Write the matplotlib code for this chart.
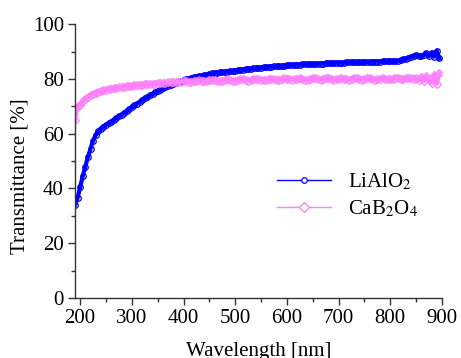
import numpy as np
import matplotlib
matplotlib.use("Agg")
import matplotlib.pyplot as plt
from matplotlib.lines import Line2D

plt.rcParams['font.family'] = ['Liberation Serif', 'DejaVu Serif']
plt.rcParams['mathtext.fontset'] = 'stix'

# wavelength grid (nm), 5 nm steps
wavelength = np.arange(190, 896, 5)

# LiAlO2 transmittance [%]
lialo2 = [
    34.0, 36.5, 40.5, 44.5, 48.0, 51.5, 54.5, 57.5, 59.5, 60.8,   # 190-235
    61.8, 62.6, 63.2, 63.8, 64.4, 65.0, 65.7, 66.3, 67.0, 67.6,   # 240-285
    68.3, 68.9, 69.6, 70.3, 71.0, 71.6, 72.3, 72.9, 73.5, 74.1,   # 290-335
    74.6, 75.1, 75.6, 76.1, 76.6, 77.0, 77.4, 77.8, 78.2, 78.6,   # 340-385
    78.9, 79.3, 79.6, 79.9, 80.1, 80.4, 80.6, 80.8, 81.0, 81.2,   # 390-435
    81.4, 81.6, 81.8, 82.0, 82.1, 82.3, 82.4, 82.5, 82.6, 82.7,   # 440-485
    82.8, 82.9, 83.0, 83.1, 83.3, 83.4, 83.5, 83.6, 83.7, 83.8,   # 490-535
    83.9, 84.0, 84.1, 84.2, 84.3, 84.4, 84.5, 84.6, 84.6, 84.7,   # 540-585
    84.8, 84.8, 84.9, 85.0, 85.0, 85.1, 85.2, 85.2, 85.3, 85.3,   # 590-635
    85.4, 85.4, 85.5, 85.5, 85.5, 85.6, 85.6, 85.7, 85.7, 85.8,   # 640-685
    85.8, 85.8, 85.9, 85.9, 85.9, 86.0, 86.0, 86.0, 86.1, 86.1,   # 690-735
    86.1, 86.2, 86.2, 86.2, 86.2, 86.3, 86.3, 86.3, 86.3, 86.4,   # 740-785
    86.4, 86.4, 86.4, 86.5, 86.5, 86.6, 86.8, 87.1, 87.4, 87.8,   # 790-835
    88.1, 88.4, 88.7, 88.5, 88.2, 88.9, 89.4, 88.3, 89.6, 88.1,   # 840-885
    90.2, 87.5,                                                   # 890-895
]

# CaB2O4 transmittance [%]
cab2o4 = [
    65.0, 70.0, 70.6, 71.8, 72.8, 73.5, 74.1, 74.6, 75.0, 75.3,   # 190-235
    75.6, 75.8, 76.0, 76.2, 76.4, 76.6, 76.7, 76.9, 77.0, 77.2,   # 240-285
    77.3, 77.4, 77.5, 77.6, 77.7, 77.8, 77.9, 78.0, 78.1, 78.2,   # 290-335
    78.2, 78.3, 78.4, 78.5, 78.6, 78.6, 78.7, 78.8, 78.8, 78.9,   # 340-385
    78.9, 79.0, 79.1, 79.2, 79.0, 78.9, 79.1, 79.4, 79.5, 79.3,   # 390-435
    79.1, 79.2, 79.5, 79.7, 79.6, 79.3, 79.2, 79.4, 79.7, 79.8,   # 440-485
    79.6, 79.3, 79.3, 79.6, 79.9, 79.9, 79.6, 79.4, 79.5, 79.8,   # 490-535
    80.0, 79.9, 79.6, 79.5, 79.7, 80.0, 80.1, 79.9, 79.6, 79.6,   # 540-585
    79.9, 80.2, 80.1, 79.8, 79.6, 79.8, 80.1, 80.2, 80.0, 79.7,   # 590-635
    79.7, 80.0, 80.3, 80.2, 79.9, 79.7, 79.9, 80.2, 80.3, 80.0,   # 640-685
    79.7, 79.8, 80.1, 80.3, 80.1, 79.8, 79.7, 80.0, 80.3, 80.2,   # 690-735
    79.9, 79.7, 79.9, 80.2, 80.3, 80.0, 79.7, 79.8, 80.1, 80.3,   # 740-785
    80.1, 79.8, 79.8, 80.1, 80.4, 80.3, 80.0, 79.9, 80.2, 80.5,   # 790-835
    80.4, 80.1, 80.3, 79.5, 80.8, 79.2, 81.0, 79.8, 78.6, 81.5,   # 840-885
    78.3, 82.0,                                                   # 890-895
]

blue = '#0000ff'
pink = '#ff80ff'

fig = plt.figure(figsize=(4.61, 3.58), dpi=100)
ax = fig.add_axes([0.1627, 0.1676, 0.796, 0.765])

# thick line + open markers, so the dense scan reads as a solid band
ax.plot(wavelength, lialo2, '-o', color=blue, lw=3.0, ms=4.0,
        mfc='none', mec=blue, mew=0.9)
ax.plot(wavelength, cab2o4, '-D', color=pink, lw=3.0, ms=4.5,
        mfc='none', mec=pink, mew=0.9)

ax.set_xlim(190, 900)
ax.set_ylim(0, 100)
ax.set_xticks(np.arange(200, 901, 100))
ax.set_xticks(np.arange(250, 900, 100), minor=True)
ax.set_yticks(np.arange(0, 101, 20))
ax.set_yticks(np.arange(10, 100, 20), minor=True)

for s in ['top', 'right']:
    ax.spines[s].set_visible(False)
for s in ['left', 'bottom']:
    ax.spines[s].set_linewidth(1.0)
    ax.spines[s].set_color('#333333')

ax.tick_params(which='major', direction='out', length=5, width=1,
               labelsize=15, pad=3, color='#333333')
ax.tick_params(which='minor', direction='out', length=3, width=1,
               color='#333333')

ax.set_xlabel('Wavelength [nm]', fontsize=15, labelpad=10)
ax.set_ylabel('Transmittance [%]', fontsize=15)
ax.yaxis.set_label_coords(-0.125, 0.445)

handles = [
    Line2D([], [], color=blue, lw=1.0, marker='o', ms=4, mfc='white',
           mec=blue, mew=0.9),
    Line2D([], [], color=pink, lw=1.0, marker='D', ms=5, mfc='white',
           mec=pink, mew=0.9),
]
ax.legend(handles, ['LiAlO$_2$', 'CaB$_2$O$_4$'],
          loc='upper left', bbox_to_anchor=(0.50, 0.53),
          frameon=False, fontsize=15, numpoints=1,
          handlelength=2.6, handletextpad=0.8, labelspacing=0.3)

fig.savefig('out.png', dpi=100)
